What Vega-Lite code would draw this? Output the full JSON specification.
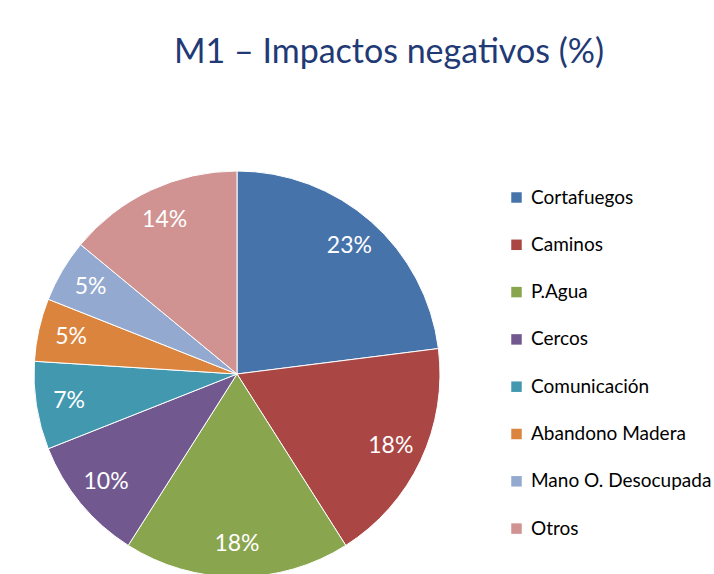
{
  "$schema": "https://vega.github.io/schema/vega-lite/v6.json",
  "width": 406,
  "height": 406,
  "autosize": "none",
  "padding": {"left": 34, "top": 171, "right": 274, "bottom": 0},
  "background": "white",
  "view": {"stroke": null},
  "title": {
    "text": "M1 – Impactos negativos (%)",
    "anchor": "start",
    "frame": "group",
    "dx": 140,
    "offset": 99,
    "fontSize": 34,
    "font": "Lato",
    "fontWeight": "normal",
    "color": "#1F3A75"
  },
  "data": {
    "values": [
      {"categoria": "Cortafuegos", "valor": 23, "orden": 1, "etiqueta": "23%"},
      {"categoria": "Caminos", "valor": 18, "orden": 2, "etiqueta": "18%"},
      {"categoria": "P.Agua", "valor": 18, "orden": 3, "etiqueta": "18%"},
      {"categoria": "Cercos", "valor": 10, "orden": 4, "etiqueta": "10%"},
      {"categoria": "Comunicación", "valor": 7, "orden": 5, "etiqueta": "7%"},
      {"categoria": "Abandono Madera", "valor": 5, "orden": 6, "etiqueta": "5%"},
      {"categoria": "Mano O. Desocupada", "valor": 5, "orden": 7, "etiqueta": "5%"},
      {"categoria": "Otros", "valor": 14, "orden": 8, "etiqueta": "14%"}
    ]
  },
  "encoding": {
    "theta": {"field": "valor", "type": "quantitative", "stack": true},
    "order": {"field": "orden", "type": "quantitative"}
  },
  "layer": [
    {
      "mark": {"type": "arc", "outerRadius": 203, "stroke": "white", "strokeWidth": 1},
      "encoding": {
        "color": {
          "field": "categoria",
          "type": "nominal",
          "sort": ["Cortafuegos", "Caminos", "P.Agua", "Cercos", "Comunicación", "Abandono Madera", "Mano O. Desocupada", "Otros"],
          "scale": {
            "domain": ["Cortafuegos", "Caminos", "P.Agua", "Cercos", "Comunicación", "Abandono Madera", "Mano O. Desocupada", "Otros"],
            "range": ["#4573AA", "#AA4644", "#89A54E", "#71588F", "#4198AF", "#DB843D", "#93A9CF", "#D09392"]
          },
          "legend": {
            "title": null,
            "orient": "none",
            "legendX": 473,
            "legendY": 17,
            "symbolType": "square",
            "symbolSize": 110,
            "symbolStrokeWidth": 0,
            "labelFont": "Lato",
            "labelFontSize": 19,
            "labelColor": "#000000",
            "rowPadding": 27.3,
            "labelOffset": 5,
            "labelLimit": 300
          }
        }
      }
    },
    {
      "mark": {"type": "text", "radius": 170, "fill": "white", "fontSize": 23, "font": "Lato"},
      "encoding": {
        "text": {"field": "etiqueta", "type": "nominal"}
      }
    }
  ]
}
